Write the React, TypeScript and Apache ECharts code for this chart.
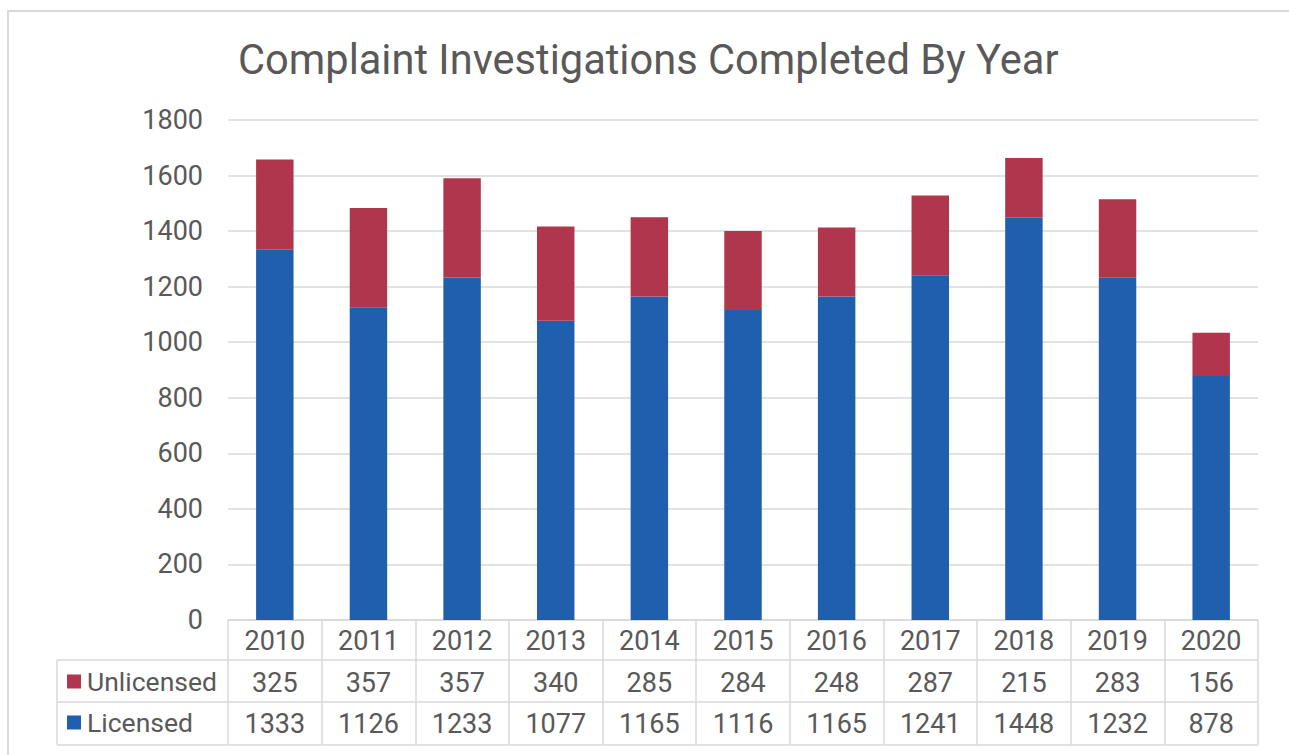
import React, { useEffect, useRef } from "react";
import * as echarts from "echarts";

const years = ["2010", "2011", "2012", "2013", "2014", "2015", "2016", "2017", "2018", "2019", "2020"];
const unlicensed = [325, 357, 357, 340, 285, 284, 248, 287, 215, 283, 156];
const licensed = [1333, 1126, 1233, 1077, 1165, 1116, 1165, 1241, 1448, 1232, 878];
const yTicks = { min: 0, max: 1800, interval: 200 };

const W = 1289;
const H = 755;
const GRID_L = 228;
const GRID_R = 1258;
const GRID_T = 120;
const GRID_B = 620;
const ROW1 = 660;
const ROW2 = 702;
const ROW3 = 745;
const LEG_L = 57;
const TEXT = "#595959";
const LINE = "#d9d9d9";
const FONT = "Roboto";

export default function App() {
  const ref = useRef<HTMLDivElement>(null);
  useEffect(() => {
    document.body.style.margin = "0";
    const chart = echarts.init(ref.current!, null, { renderer: "svg" });
    const lineStyle = { stroke: LINE, lineWidth: 1.5 };
    chart.setOption({
      animation: false,
      backgroundColor: "#ffffff",
      title: {
        text: "Complaint Investigations Completed By Year",
        left: 233,
        top: 33,
        textStyle: { fontFamily: FONT, fontSize: 41.6, fontWeight: "normal", color: TEXT },
      },
      legend: {
        data: ["Unlicensed", "Licensed"],
        orient: "vertical",
        left: 67,
        top: 668,
        padding: 0,
        itemWidth: 14,
        itemHeight: 14,
        itemGap: 14,
        icon: "rect",
        textStyle: { fontFamily: FONT, fontSize: 26.5, color: TEXT, padding: [0, 0, 0, 1] },
      },
      grid: { left: GRID_L, right: W - GRID_R, top: GRID_T, bottom: H - GRID_B, containLabel: false },
      xAxis: {
        type: "category",
        data: years,
        axisLine: { show: true, lineStyle: { color: LINE, width: 1.5 } },
        axisTick: { show: true, interval: 0, length: ROW3 - GRID_B, lineStyle: { color: LINE, width: 1.5 } },
        axisLabel: {
          interval: 0,
          margin: 0,
          formatter: (v: string, i: number) => `{a|${v}}\n{a|${unlicensed[i]}}\n{a|${licensed[i]}}`,
          rich: {
            a: { fontFamily: FONT, fontSize: 27, color: TEXT, lineHeight: (ROW3 - GRID_B) / 3 },
          },
        },
      },
      yAxis: {
        type: "value",
        min: yTicks.min,
        max: yTicks.max,
        interval: yTicks.interval,
        axisLine: { show: false },
        axisTick: { show: false },
        axisLabel: { margin: 25, fontFamily: FONT, fontSize: 27, color: TEXT, formatter: (v: number) => String(v) },
        splitLine: { lineStyle: { color: LINE, width: 1.5 } },
      },
      series: [
        {
          name: "Licensed",
          type: "bar",
          stack: "total",
          data: licensed,
          barWidth: "40%",
          itemStyle: { color: "#1f5fad" },
        },
        {
          name: "Unlicensed",
          type: "bar",
          stack: "total",
          data: unlicensed,
          barWidth: "40%",
          itemStyle: { color: "#af364c" },
        },
      ],
      graphic: [
        { type: "rect", shape: { x: 8, y: 11, width: W + 20, height: H + 20 }, style: { fill: "none", stroke: LINE, lineWidth: 2 }, silent: true },
        { type: "line", shape: { x1: LEG_L, y1: ROW1, x2: GRID_R, y2: ROW1 }, style: lineStyle, silent: true },
        { type: "line", shape: { x1: LEG_L, y1: ROW2, x2: GRID_R, y2: ROW2 }, style: lineStyle, silent: true },
        { type: "line", shape: { x1: LEG_L, y1: ROW3, x2: GRID_R, y2: ROW3 }, style: lineStyle, silent: true },
        { type: "line", shape: { x1: LEG_L, y1: ROW1, x2: LEG_L, y2: ROW3 }, style: lineStyle, silent: true },
      ],
    });
    return () => chart.dispose();
  }, []);
  return <div ref={ref} style={{ width: W, height: H }} />;
}
